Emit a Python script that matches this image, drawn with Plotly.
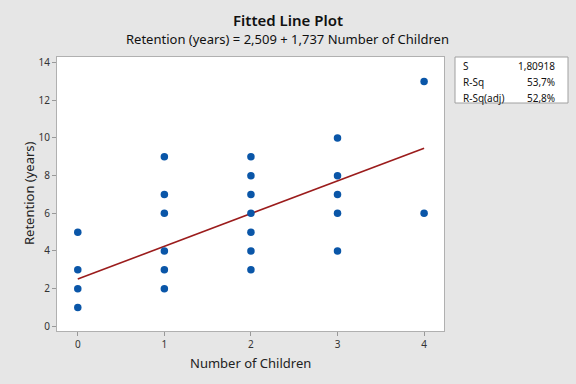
import plotly.graph_objects as go

children = [0, 0, 0, 0,
            1, 1, 1, 1, 1, 1,
            2, 2, 2, 2, 2, 2, 2,
            3, 3, 3, 3, 3,
            4, 4]
retention = [1, 2, 3, 5,
             2, 3, 4, 6, 7, 9,
             3, 4, 5, 6, 7, 8, 9,
             4, 6, 7, 8, 10,
             6, 13]
intercept = 2.509
slope = 1.737
fit_x = [0, 4]
fit_y = [intercept + slope * v for v in fit_x]
stat_labels = ["S", "R-Sq", "R-Sq(adj)"]
stat_values = ["1,80918", "53,7%", "52,8%"]
x_ticks = [0, 1, 2, 3, 4]
y_ticks = [0, 2, 4, 6, 8, 10, 12, 14]

FONT = "Noto Sans"
L, R, T, B = 57, 444, 57, 331
W, H = R - L, B - T

def px_x(p):
    return (p - L) / W

def px_y(p):
    return (B - p) / H

fig = go.Figure()
fig.add_trace(go.Scatter(x=fit_x, y=fit_y, mode="lines",
                         line=dict(color="#9b1c1c", width=1.6), hoverinfo="skip"))
fig.add_trace(go.Scatter(x=children, y=retention, mode="markers",
                         marker=dict(color="#0a56a8", size=7.5)))

fig.update_layout(
    width=576, height=384,
    paper_bgcolor="#e6e6e6", plot_bgcolor="white",
    showlegend=False,
    margin=dict(l=L, r=576 - R, t=T, b=384 - B),
    font=dict(family=FONT, color="#222222"),
)
fig.add_annotation(text="Fitted Line Plot", xref="paper", yref="paper",
                   x=px_x(288), y=px_y(20), xanchor="center", yanchor="middle",
                   showarrow=False,
                   font=dict(size=15, family=FONT, color="#111111", weight=600))
fig.add_annotation(text="Retention (years) = 2,509 + 1,737 Number of Children",
                   xref="paper", yref="paper", x=px_x(287), y=px_y(39),
                   xanchor="center", yanchor="middle", showarrow=False,
                   font=dict(size=13, family=FONT, color="#111111"))
fig.add_annotation(text="Number of Children", xref="paper", yref="paper",
                   x=0.5, y=px_y(363), xanchor="center", yanchor="middle",
                   showarrow=False, font=dict(size=13, family=FONT, color="#222222"))
fig.add_annotation(text="Retention (years)", xref="paper", yref="paper",
                   x=px_x(29), y=px_y(193), xanchor="center", yanchor="middle",
                   textangle=-90, showarrow=False,
                   font=dict(size=13, family=FONT, color="#222222"))
fig.update_xaxes(range=[-0.24, 4.23], tickvals=x_ticks, ticks="outside", ticklen=4,
                 tickcolor="#999999", showgrid=False, zeroline=False, automargin=False,
                 showline=True, linecolor="#b0b0b0", linewidth=1, mirror=True,
                 tickfont=dict(size=10, color="#333333"))
fig.update_yaxes(range=[-0.25, 14.3], tickvals=y_ticks, ticks="outside", ticklen=4,
                 tickcolor="#999999", showgrid=False, zeroline=False, automargin=False,
                 showline=True, linecolor="#b0b0b0", linewidth=1, mirror=True,
                 tickfont=dict(size=10, color="#333333"))

# stats box
fig.add_shape(type="rect", xref="paper", yref="paper",
              x0=px_x(455), x1=px_x(568), y0=px_y(103), y1=px_y(57),
              fillcolor="white", line=dict(color="#a0a0a0", width=1))
for i, (lab, val) in enumerate(zip(stat_labels, stat_values)):
    yp = px_y(66 + i * 16)
    fig.add_annotation(text=lab, xref="paper", yref="paper", x=px_x(461), y=yp,
                       xanchor="left", yanchor="middle", showarrow=False,
                       font=dict(size=10, family=FONT, color="#111111"))
    fig.add_annotation(text=val, xref="paper", yref="paper", x=px_x(557), y=yp,
                       xanchor="right", yanchor="middle", showarrow=False,
                       font=dict(size=10, family=FONT, color="#111111"))

fig.write_html("out.html", config={"displayModeBar": False},
               post_script="document.body.style.margin='0';")
